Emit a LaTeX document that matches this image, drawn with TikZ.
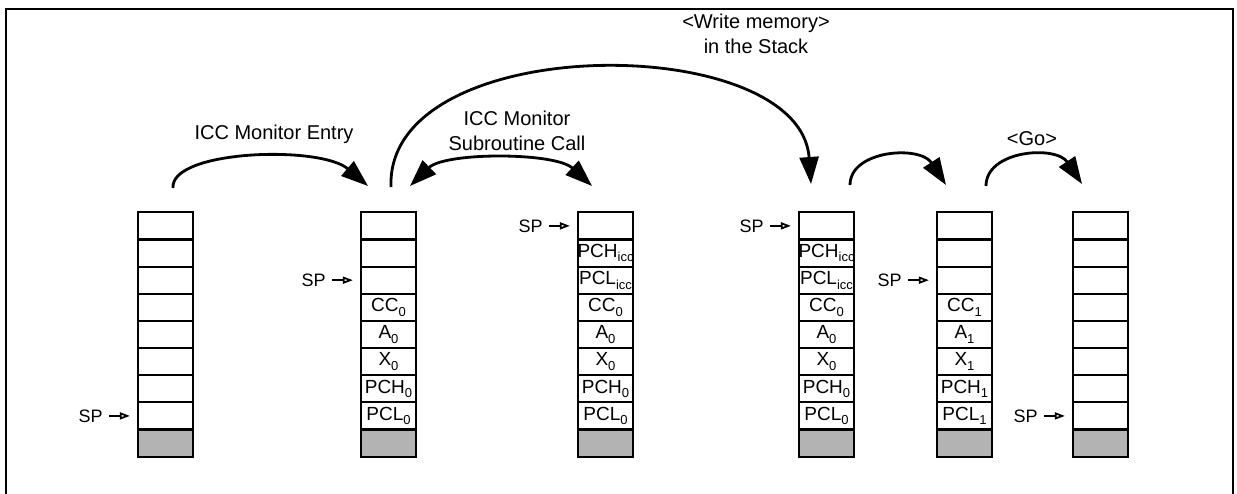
\documentclass[tikz,border=0pt]{standalone}
\usepackage{fontspec}
\setmainfont{Liberation Sans}
\usetikzlibrary{arrows.meta}
\definecolor{cellgray}{RGB}{179,179,179}
\newcommand{\lowsub}[1]{\raisebox{-0.45ex}{\fontsize{6.5}{7}\selectfont #1}}
\newcommand{\drawstack}[3]{%
  \foreach \t [count=\i from 0] in {#3} {
    \node[stcell] (#1c\i) at (#2+27.5, {212.3+27.15*(\i+0.5)}) {\makebox[0pt]{\t}};
  }
  \node[stbase] (#1c8) at (#2+27.5, {212.3+27.15*8.5}) {};
}
\begin{document}
\begin{tikzpicture}[x=0.5pt,y=-0.5pt,
  stcell/.style={draw, line width=1.1pt, minimum width=27.5pt, minimum height=13.575pt, inner sep=0pt, font=\fontsize{9.5}{10}\selectfont},
  stbase/.style={stcell, fill=cellgray},
  sptext/.style={font=\fontsize{9}{10}\selectfont, inner sep=0pt, anchor=east},
  sparrow/.style={line width=0.9pt, -{Triangle[open,length=5pt,width=3.5pt]}},
  bigarrow/.style={line width=1.4pt, -{Triangle[length=13.5pt,width=9.5pt]}},
  lbl/.style={font=\fontsize{10}{12.5}\selectfont, align=center, inner sep=0pt}]
\useasboundingbox (0,0) rectangle (1237,493);
\draw[line width=1pt] (6,500) -- (6,9) -- (1232.5,9) -- (1232.5,500);

\drawstack{s1}{138}{{},{},{},{},{},{},{},{}}
\drawstack{s2}{361}{{},{},{},{CC\lowsub{0}},{A\lowsub{0}},{X\lowsub{0}},{PCH\lowsub{0}},{PCL\lowsub{0}}}
\drawstack{s3}{578}{{},{PCH\lowsub{icc}},{PCL\lowsub{icc}},{CC\lowsub{0}},{A\lowsub{0}},{X\lowsub{0}},{PCH\lowsub{0}},{PCL\lowsub{0}}}
\drawstack{s4}{799}{{},{PCH\lowsub{icc}},{PCL\lowsub{icc}},{CC\lowsub{0}},{A\lowsub{0}},{X\lowsub{0}},{PCH\lowsub{0}},{PCL\lowsub{0}}}
\drawstack{s5}{937}{{},{},{},{CC\lowsub{1}},{A\lowsub{1}},{X\lowsub{1}},{PCH\lowsub{1}},{PCL\lowsub{1}}}
\drawstack{s6}{1073}{{},{},{},{},{},{},{},{}}

% SP pointers
\node[sptext] (sp1) at (138-35, {212.3+27.15*7.5}) {SP};
\node[sptext] (sp2) at (361-35, {212.3+27.15*2.5}) {SP};
\node[sptext] (sp3) at (578-35, {212.3+27.15*0.5}) {SP};
\node[sptext] (sp4) at (799-35, {212.3+27.15*0.5}) {SP};
\node[sptext] (sp5) at (937-35, {212.3+27.15*2.5}) {SP};
\node[sptext] (sp6) at (1073-35, {212.3+27.15*7.5}) {SP};
\draw[sparrow] ([xshift=3pt]sp1.east) -- ([xshift=-3.5pt]s1c7.west);
\draw[sparrow] ([xshift=3pt]sp2.east) -- ([xshift=-3.5pt]s2c2.west);
\draw[sparrow] ([xshift=3pt]sp3.east) -- ([xshift=-3.5pt]s3c0.west);
\draw[sparrow] ([xshift=3pt]sp4.east) -- ([xshift=-3.5pt]s4c0.west);
\draw[sparrow] ([xshift=3pt]sp5.east) -- ([xshift=-3.5pt]s5c2.west);
\draw[sparrow] ([xshift=3pt]sp6.east) -- ([xshift=-3.5pt]s6c7.west);

% arc end points
\coordinate (a1s) at (173,188);
\coordinate (a1e) at (368,186);
\coordinate (a2s) at (391,187);
\coordinate (a2e) at (811,184);
\coordinate (a3s) at (410,186);
\coordinate (a3e) at (592,186);
\coordinate (a4s) at (850,185);
\coordinate (a4e) at (946,185);
\coordinate (a5s) at (986,186);
\coordinate (a5e) at (1082,184);

\draw[bigarrow] (a1s) .. controls (170,150) and (320,145) .. (a1e);
\draw[bigarrow] (a2s) .. controls (385,30) and (800,30) .. (a2e);
\draw[bigarrow, {Triangle[length=13.5pt,width=9.5pt]}-{Triangle[length=13.5pt,width=9.5pt]}] (a3e) .. controls (555,152) and (445,152) .. (a3s);
\draw[bigarrow] (a4s) .. controls (850,150) and (920,145) .. (a4e);
\draw[bigarrow] (a5s) .. controls (986,150) and (1056,145) .. (a5e);

% labels
\node[lbl] (t1) at (274,134) {ICC Monitor Entry};
\node[lbl] (t2) at (517,131) {ICC Monitor\\Subroutine Call};
\node[lbl] (t3) at (756,34) {<Write memory>\\in the Stack};
\node[lbl] (t4) at (1032,139) {<Go>};
\end{tikzpicture}
\end{document}
